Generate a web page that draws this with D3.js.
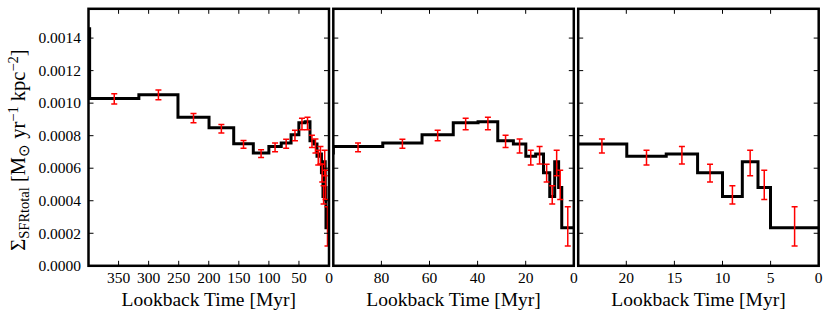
<!DOCTYPE html>
<html><head><meta charset="utf-8">
<script src="https://cdn.jsdelivr.net/npm/d3@7"></script>
<style>
body{margin:0;background:#fff}
</style>
</head><body>
<svg id="c" width="830" height="321"></svg>
<script>
// Bin edges in lookback time (Myr)
const binEdges = [0, 5.01, 6.31, 7.94, 10.0, 12.59, 15.85, 19.95, 25.12, 31.62, 39.81,
                  50.12, 63.10, 79.43, 100.0, 125.89, 158.49, 199.53, 251.19, 316.23, 398.11, 501.19];
// SFR surface density per bin (step line)
const sfr = [0.000234, 0.000482, 0.000640, 0.000426, 0.000572, 0.000687, 0.000673, 0.000749,
             0.000769, 0.000886, 0.000880, 0.000806, 0.000755, 0.000734, 0.000694, 0.000751,
             0.000849, 0.000913, 0.001052, 0.001028, 0.001458];
// error bar centres and half-widths
const sfrMedian = [0.000242, 0.000497, 0.000632, 0.000436, 0.000570, 0.000680, 0.000665, 0.000737,
                   0.000765, 0.000875, 0.000872, 0.000801, 0.000750, 0.000728, 0.000690, 0.000746,
                   0.000842, 0.000908, 0.001051, 0.001026, 0.001460];
const sfrErr = [0.000121, 0.000090, 0.000078, 0.000056, 0.000055, 0.000054, 0.000045, 0.000043,
                0.000037, 0.000038, 0.000035, 0.000032, 0.000028, 0.000027, 0.000024, 0.000024,
                0.000026, 0.000028, 0.000030, 0.000032, 0.000040];
const panelDomains = [[400, 0], [100, 0], [25, 0]];
const xTickValues = [[350, 300, 250, 200, 150, 100, 50, 0], [80, 60, 40, 20, 0], [20, 15, 10, 5, 0]];
const yTickValues = [0, 0.0002, 0.0004, 0.0006, 0.0008, 0.0010, 0.0012, 0.0014];
const yMax = 0.00158;
const xLabel = "Lookback Time [Myr]";

const svg = d3.select("#c");
const FONT = "Liberation Serif";
const panelX = [88.5, 333.3, 578.2];
const pw = 240.5, plotTop = 8.8, plotBottom = 265.8;
const y = d3.scaleLinear().domain([0, yMax]).range([plotBottom, plotTop]);

// step points
const stepPts = sfr.map((v, i) => [binEdges[i], v]);
stepPts.push([binEdges[binEdges.length - 1], sfr[sfr.length - 1]]);
const centers = sfr.map((v, i) => (binEdges[i] + binEdges[i + 1]) / 2);

panelDomains.forEach((dom, p) => {
  const x0 = panelX[p];
  const x = d3.scaleLinear().domain(dom).range([x0, x0 + pw]);
  const g = svg.append("g");
  const cid = "clip" + p;
  svg.append("clipPath").attr("id", cid).append("rect")
    .attr("x", x0).attr("y", plotTop).attr("width", pw).attr("height", plotBottom - plotTop);

  const plot = g.append("g").attr("clip-path", `url(#${cid})`);
  const line = d3.line().x(d => x(d[0])).y(d => y(d[1])).curve(d3.curveStepAfter);
  plot.append("path").datum(stepPts).attr("d", line)
    .attr("fill", "none").attr("stroke", "#000").attr("stroke-width", 3)
    .attr("stroke-linejoin", "miter");

  const eb = plot.append("g").attr("stroke", "#ff0000").attr("stroke-width", 1.5);
  sfrMedian.forEach((m, i) => {
    const cx = x(centers[i]);
    const y1 = y(m - sfrErr[i]), y2 = y(m + sfrErr[i]);
    eb.append("line").attr("x1", cx).attr("x2", cx).attr("y1", y1).attr("y2", y2);
    eb.append("line").attr("x1", cx - 3).attr("x2", cx + 3).attr("y1", y1).attr("y2", y1);
    eb.append("line").attr("x1", cx - 3).attr("x2", cx + 3).attr("y1", y2).attr("y2", y2);
  });

  // ticks (inward) on all sides
  const tk = g.append("g").attr("stroke", "#000").attr("stroke-width", 1);
  xTickValues[p].forEach(t => {
    const tx = x(t);
    tk.append("line").attr("x1", tx).attr("x2", tx).attr("y1", plotBottom).attr("y2", plotBottom - 5);
    tk.append("line").attr("x1", tx).attr("x2", tx).attr("y1", plotTop).attr("y2", plotTop + 5);
  });
  yTickValues.forEach(t => {
    const ty = y(t);
    tk.append("line").attr("x1", x0).attr("x2", x0 + 5).attr("y1", ty).attr("y2", ty);
    tk.append("line").attr("x1", x0 + pw).attr("x2", x0 + pw - 5).attr("y1", ty).attr("y2", ty);
  });

  // frame
  g.append("rect").attr("x", x0).attr("y", plotTop).attr("width", pw).attr("height", plotBottom - plotTop)
    .attr("fill", "none").attr("stroke", "#000").attr("stroke-width", 2.5);

  // x tick labels
  xTickValues[p].forEach(t => {
    g.append("text").attr("x", x(t)).attr("y", 282.5).attr("text-anchor", "middle")
      .style("font-family", FONT).attr("font-size", 15.5).text(d3.format("d")(t));
  });
  g.append("text").attr("x", x0 + pw / 2).attr("y", 306).attr("text-anchor", "middle")
    .style("font-family", FONT).attr("font-size", 19.5).text(xLabel);

  if (p === 0) {
    yTickValues.forEach(t => {
      g.append("text").attr("x", 81).attr("y", y(t)).attr("dy", "0.34em")
        .attr("text-anchor", "end").style("font-family", FONT).attr("font-size", 15.5)
        .text(d3.format(".4f")(t));
    });
  }
});

// y label
const yl = svg.append("text").attr("transform", "translate(25,150) rotate(-90)")
  .attr("text-anchor", "middle").style("font-family", FONT).attr("font-size", 20.5);
yl.append("tspan").text("Σ");
yl.append("tspan").attr("font-size", 14.5).attr("dy", 4).text("SFRtotal");
yl.append("tspan").attr("dy", -4).text(" [M");
yl.append("tspan").attr("font-size", 14.5).attr("dy", 4).text("⊙");
yl.append("tspan").attr("dy", -4).text(" yr");
yl.append("tspan").attr("font-size", 14.5).attr("dy", -7.5).text("−1");
yl.append("tspan").attr("dy", 7.5).text(" kpc");
yl.append("tspan").attr("font-size", 14.5).attr("dy", -7.5).text("−2");
yl.append("tspan").attr("dy", 7.5).text("]");
</script>
</body></html>
